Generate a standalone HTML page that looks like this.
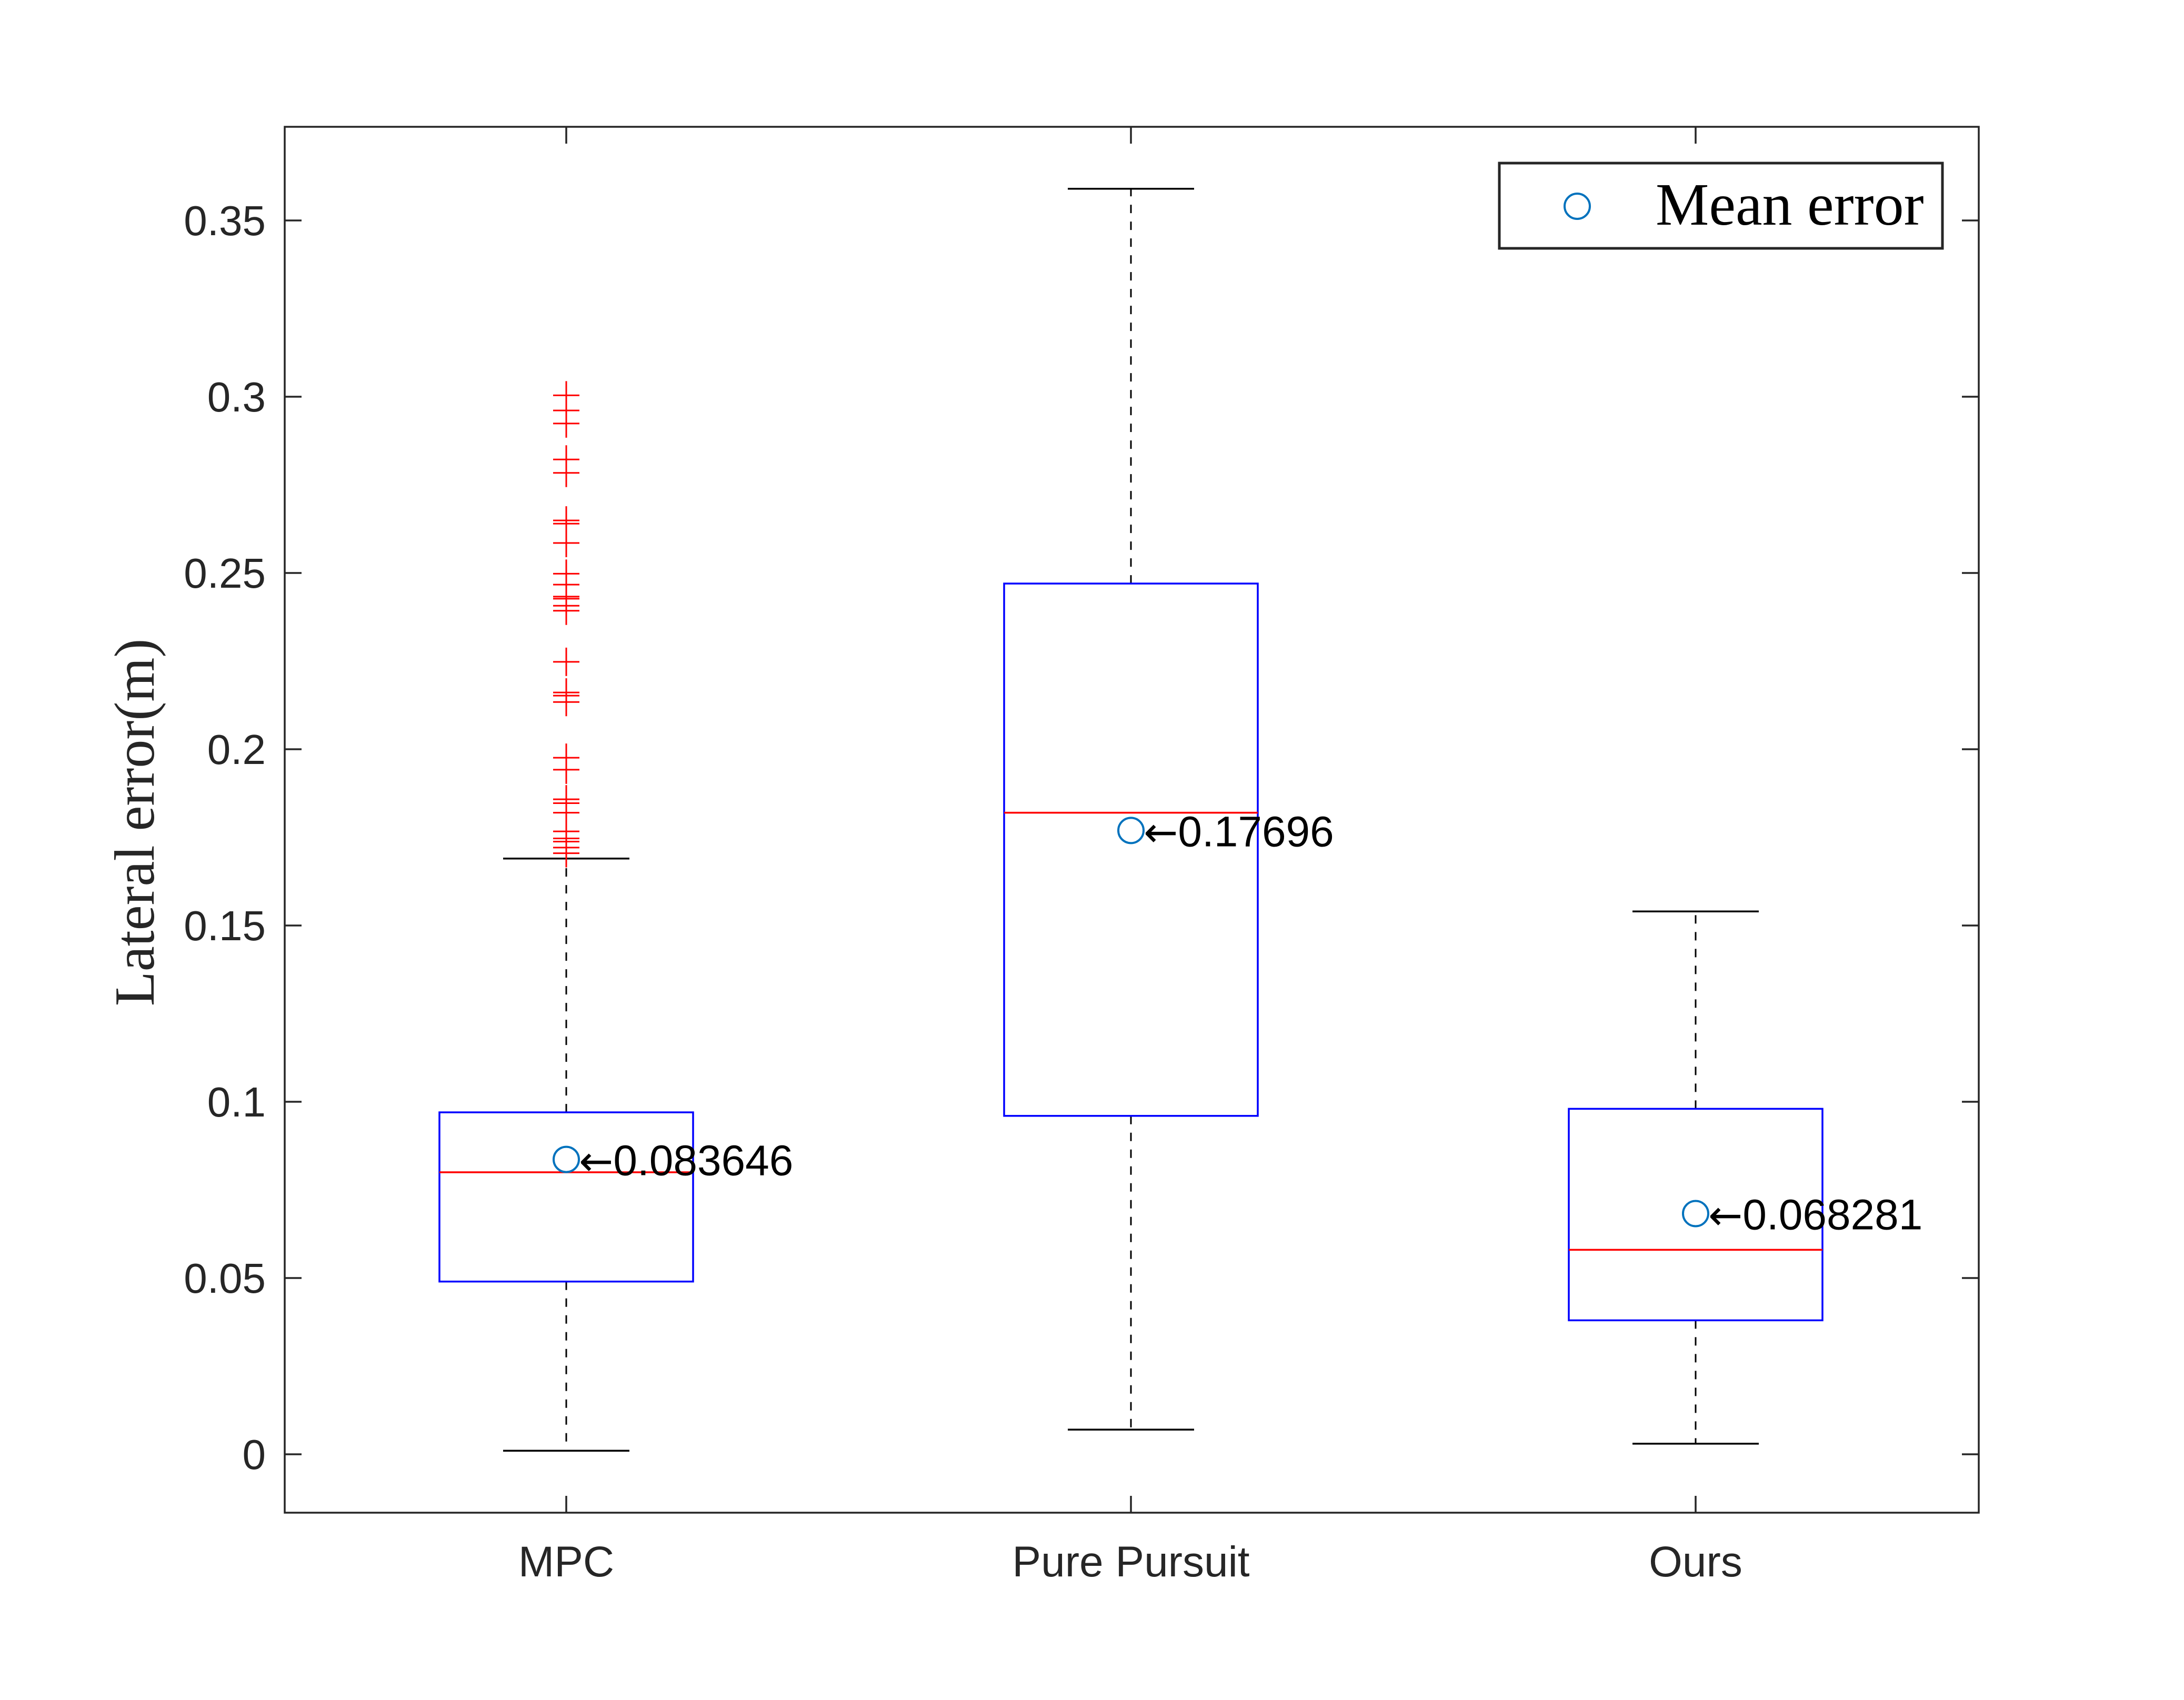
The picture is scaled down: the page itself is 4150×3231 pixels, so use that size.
<!DOCTYPE html>
<html><head><meta charset="utf-8"><style>html,body{margin:0;padding:0;background:#fff}svg{display:block}</style></head>
<body>
<svg id="chart" width="4150" height="3231" viewBox="0 0 4150 3231" xmlns="http://www.w3.org/2000/svg">
<rect width="4150" height="3231" fill="#fff"/>
<g id="plot"></g>
</svg>
<script>
const categories = ["MPC", "Pure Pursuit", "Ours"];
const q1s = [0.049, 0.096, 0.038];
const q3s = [0.097, 0.247, 0.098];
const medians = [0.080, 0.182, 0.058];
const whiskLow = [0.001, 0.007, 0.003];
const whiskHigh = [0.169, 0.359, 0.154];
const means = [0.083646, 0.17696, 0.068281];
const meanLabels = ["0.083646", "0.17696", "0.068281"];
const mpcOutliers = [0.3004,0.2961,0.2924,0.2822,0.2784,0.2649,0.2640,0.2585,0.2498,0.2467,0.2433,0.2427,0.2407,0.2393,0.2248,0.2161,0.2152,0.2134,0.1976,0.1942,0.1858,0.1847,0.1820,0.1767,0.1747,0.1738,0.1721,0.1705];
const yTicks = [0, 0.05, 0.1, 0.15, 0.2, 0.25, 0.3, 0.35];
const yTickLabels = ["0","0.05","0.1","0.15","0.2","0.25","0.3","0.35"];

const L=541,R=3760,T=241,B=2875;
const y0=2764, yScale=6700;
function yPos(v){return y0 - v*yScale;}
function xPos(i){return 1076 + i*1073;}
const NS="http://www.w3.org/2000/svg";
const g=document.getElementById('plot');
function mk(tag,attrs,parent){const e=document.createElementNS(NS,tag);for(const k in attrs)e.setAttribute(k,attrs[k]);(parent||g).appendChild(e);return e;}

const ax=mk('rect',{x:L,y:T,width:R-L,height:B-T,fill:'none',stroke:'#262626','stroke-width':3.5});



yTicks.forEach((v,i)=>{
  const y=yPos(v);
  const t1=mk('line',{x1:L,x2:L+32,y1:y,y2:y,stroke:'#262626','stroke-width':3.5});
  
  
  const t2=mk('line',{x1:R-32,x2:R,y1:y,y2:y,stroke:'#262626','stroke-width':3.5});
  
  
  const tx=mk('text',{x:505,y:y+28,'text-anchor':'end','font-family':'Liberation Sans, Arial, sans-serif','font-size':80,fill:'#262626'});
  tx.textContent=yTickLabels[i];
  
  
});

categories.forEach((c,i)=>{
  const x=xPos(i);
  const hw=241, cw=120;
  const tb=mk('line',{x1:x,x2:x,y1:B,y2:B-32,stroke:'#262626','stroke-width':3.5});
  
  
  const tt=mk('line',{x1:x,x2:x,y1:T,y2:T+32,stroke:'#262626','stroke-width':3.5});
  
  
  const lb=mk('text',{x:x,y:2996,'text-anchor':'middle','font-family':'Liberation Sans, Arial, sans-serif','font-size':82,fill:'#262626'});
  lb.textContent=c;
  
  
  const w1=mk('line',{x1:x,x2:x,y1:yPos(q3s[i]),y2:yPos(whiskHigh[i]),stroke:'#000','stroke-width':3,'stroke-dasharray':'16 16'});
  
  
  const w2=mk('line',{x1:x,x2:x,y1:yPos(q1s[i]),y2:yPos(whiskLow[i]),stroke:'#000','stroke-width':3,'stroke-dasharray':'16 16'});
  
  
  const c1=mk('line',{x1:x-cw,x2:x+cw,y1:yPos(whiskHigh[i]),y2:yPos(whiskHigh[i]),stroke:'#000','stroke-width':3.5});
  
  
  const c2=mk('line',{x1:x-cw,x2:x+cw,y1:yPos(whiskLow[i]),y2:yPos(whiskLow[i]),stroke:'#000','stroke-width':3.5});
  
  
  const bx=mk('rect',{x:x-hw,y:yPos(q3s[i]),width:2*hw,height:yPos(q1s[i])-yPos(q3s[i]),fill:'none',stroke:'#0000ff','stroke-width':3.5});
  
  
  const md=mk('line',{x1:x-hw,x2:x+hw,y1:yPos(medians[i]),y2:yPos(medians[i]),stroke:'#ff0000','stroke-width':3.5});
  
  
  const mc=mk('circle',{cx:x,cy:yPos(means[i]),r:24,fill:'none',stroke:'#0072BD','stroke-width':4});
  
  
  const an=mk('text',{x:x+24,y:yPos(means[i])+30,'font-family':'Liberation Sans, Arial, sans-serif','font-size':82,fill:'#000'});
  const ar=mk('tspan',{'font-family':'DejaVu Sans, sans-serif','font-size':78},an);
  ar.textContent='\u2190';
  const nv=mk('tspan',{},an);
  nv.textContent=meanLabels[i];
  
  
});

mpcOutliers.forEach(v=>{
  const x=xPos(0), y=yPos(v);
  const p=mk('path',{d:`M${x-25} ${y}H${x+25}M${x} ${y-27}V${y+27}`,stroke:'#ff0000','stroke-width':3,fill:'none'});
  
  
});

const yt=mk('text',{x:0,y:0,transform:'translate(292,1563) rotate(-90)','text-anchor':'middle','font-family':'Liberation Serif, Times New Roman, serif','font-size':108,fill:'#262626'});
yt.textContent='Lateral error(m)';



const lg=mk('g',{});


mk('rect',{x:2849,y:310,width:842,height:162,fill:'#fff',stroke:'#262626','stroke-width':5},lg);
mk('circle',{cx:2997,cy:392,r:24,fill:'none',stroke:'#0072BD','stroke-width':4},lg);
const lt=mk('text',{x:3146,y:427,'font-family':'Liberation Serif, Times New Roman, serif','font-size':114,fill:'#000'},lg);
lt.textContent='Mean error';


</script>
</body></html>
